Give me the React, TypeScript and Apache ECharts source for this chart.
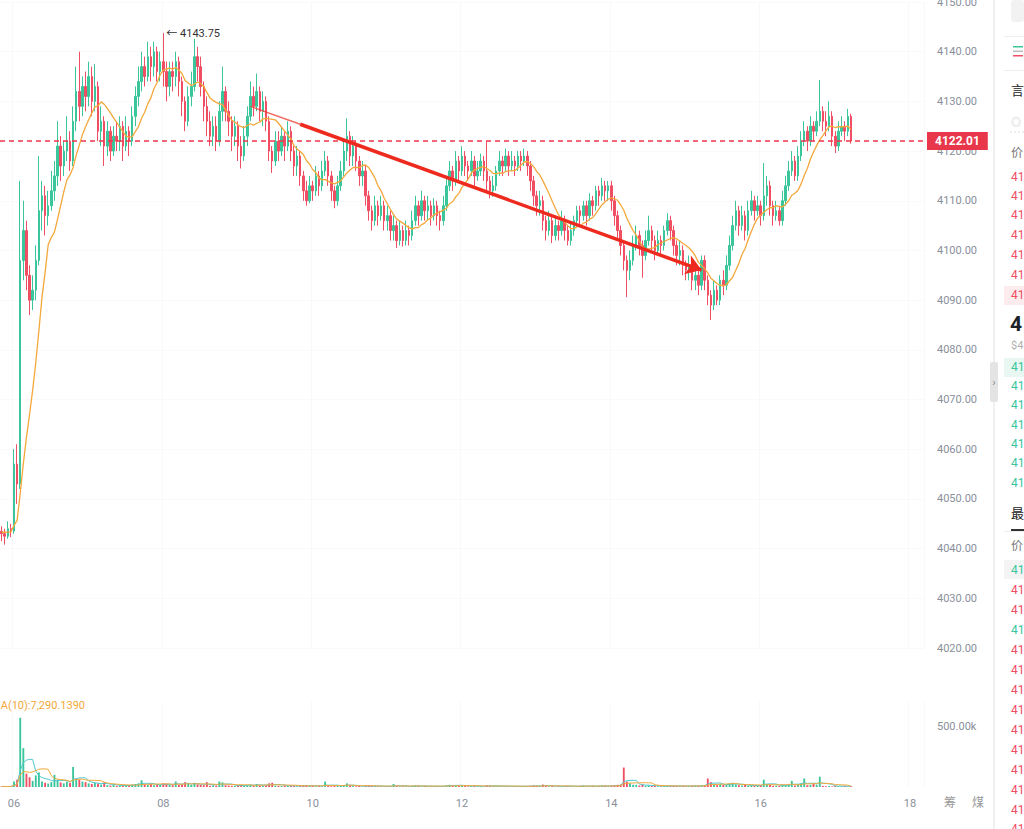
import React, { useEffect, useRef } from 'react';
import * as echarts from 'echarts';

// ---------- data (hourly candles, first slot = day 05 20:00) ----------
const PRE_CLOSES = [4042.5, 4043.8, 4043, 4044.2, 4042.7, 4043.5, 4044, 4042.8, 4043.4];

// [open, close, low, high]
const CANDLES: number[][] = [
  [4043.5, 4043, 4041.5, 4044.5], [4043, 4042.5, 4040.8, 4044], [4042.5, 4044, 4042, 4045.5], [4044, 4043.5, 4042.3, 4045],
  // day 06
  [4043.5, 4057, 4043, 4060], [4057, 4053, 4049, 4061], [4053, 4098, 4052, 4114], [4098, 4104, 4094, 4110], [4104, 4095, 4092, 4106],
  [4095, 4090, 4087, 4097], [4090, 4092, 4088, 4095], [4092, 4098, 4090, 4101], [4098, 4108, 4097, 4119], [4108, 4111, 4104, 4114],
  [4111, 4107, 4103, 4113], [4107, 4109, 4105, 4112], [4109, 4112, 4108, 4116], [4112, 4115, 4110, 4118], [4115, 4121, 4113, 4126],
  [4121, 4117, 4114, 4123], [4117, 4120, 4115, 4122], [4120, 4122, 4118, 4127], [4122, 4118, 4116, 4124], [4118, 4126, 4117, 4129],
  [4126, 4132, 4124, 4137], [4132, 4129, 4126, 4140], [4129, 4133, 4127, 4135], [4133, 4131, 4128, 4136],
  // day 07
  [4131, 4135, 4129, 4138], [4135, 4130, 4127, 4137], [4130, 4133, 4128, 4137.5], [4133, 4124, 4122, 4134], [4124, 4126, 4121, 4129],
  [4126, 4121, 4117, 4127], [4121, 4124, 4119, 4126], [4124, 4120, 4118, 4125], [4120, 4123, 4119, 4125], [4123, 4122, 4120, 4126],
  [4122, 4125, 4120, 4127], [4125, 4121, 4118, 4126], [4121, 4124, 4120, 4127], [4124, 4122, 4119, 4125], [4122, 4127, 4121, 4129],
  [4127, 4131, 4125, 4133], [4131, 4134, 4129, 4137], [4134, 4137, 4132, 4140], [4137, 4135, 4133, 4139], [4135, 4139, 4134, 4142],
  [4139, 4137, 4134, 4141], [4137, 4140, 4135, 4142], [4140, 4136, 4134, 4141], [4136, 4138, 4134, 4140],
  // day 08
  [4138, 4136, 4133, 4143.75], [4136, 4133, 4130, 4138], [4133, 4136, 4131, 4138], [4136, 4135, 4132, 4138], [4135, 4138, 4133, 4140],
  [4138, 4134, 4131, 4139], [4134, 4130, 4127, 4135], [4130, 4126, 4124, 4131], [4126, 4131, 4125, 4133], [4131, 4133, 4129, 4136],
  [4133, 4139, 4132, 4142.6], [4139, 4137, 4134, 4141], [4137, 4133, 4131, 4139], [4133, 4129, 4126, 4134], [4129, 4126, 4123, 4131],
  [4126, 4123, 4121, 4128], [4123, 4125, 4121, 4127], [4125, 4122, 4120, 4127], [4122, 4128, 4121, 4130], [4128, 4132, 4126, 4137],
  [4132, 4128, 4126, 4133], [4128, 4126, 4123, 4130], [4126, 4123, 4120, 4127], [4123, 4125, 4121, 4127],
  // day 09
  [4125, 4121, 4118, 4126], [4121, 4119, 4116.5, 4123], [4119, 4123, 4118, 4125], [4123, 4127, 4121, 4129], [4127, 4131, 4126, 4134],
  [4131, 4129, 4127, 4133], [4129, 4132, 4128, 4135.6], [4132, 4128, 4126, 4133], [4128, 4130, 4125, 4132], [4130, 4126, 4124, 4131],
  [4126, 4120, 4118, 4127], [4120, 4118, 4115.6, 4121], [4118, 4122, 4117, 4124], [4122, 4120, 4118, 4124], [4120, 4123, 4119, 4125],
  [4123, 4121, 4118, 4124], [4121, 4124, 4120, 4126], [4124, 4120, 4118, 4125], [4120, 4117, 4115, 4121], [4117, 4119, 4115, 4121],
  [4119, 4115, 4113, 4120], [4115, 4112, 4110, 4116], [4112, 4110, 4109, 4114], [4110, 4113, 4109.5, 4115],
  // day 10
  [4113, 4112, 4110, 4114], [4112, 4115, 4111, 4117], [4115, 4113, 4111, 4116], [4113, 4116, 4112, 4118], [4116, 4118, 4115, 4120],
  [4118, 4115, 4113, 4119], [4115, 4112, 4110, 4116], [4112, 4110, 4108.5, 4113], [4110, 4113, 4109, 4115], [4113, 4116, 4112, 4118],
  [4116, 4120, 4115, 4122], [4120, 4123, 4118, 4126.6], [4123, 4119, 4117, 4124], [4119, 4121, 4117, 4123], [4121, 4118, 4116, 4122],
  [4118, 4115, 4113, 4119], [4115, 4116, 4113, 4118], [4116, 4111, 4109, 4117], [4111, 4108, 4106, 4112], [4108, 4106, 4104, 4109],
  [4106, 4109, 4105, 4111], [4109, 4107, 4105, 4110], [4107, 4109, 4106, 4111], [4109, 4106, 4104, 4110],
  // day 11
  [4106, 4107, 4104, 4109], [4107, 4104, 4102, 4108], [4104, 4105, 4102, 4107], [4105, 4102, 4100.5, 4106], [4102, 4104, 4101, 4106],
  [4104, 4102, 4100.8, 4105], [4102, 4104, 4101, 4106], [4104, 4103, 4101, 4105], [4103, 4106, 4102, 4108], [4106, 4109, 4105, 4111],
  [4109, 4107, 4105, 4110], [4107, 4110, 4106, 4112], [4110, 4108, 4106, 4111], [4108, 4109, 4106, 4111], [4109, 4107, 4105, 4110],
  [4107, 4109, 4106, 4110.5], [4109, 4107, 4105, 4110], [4107, 4106, 4104, 4108], [4106, 4109, 4105, 4111], [4109, 4113, 4108, 4115],
  [4113, 4116, 4112, 4118], [4116, 4114, 4112, 4117], [4114, 4118, 4113, 4120], [4118, 4116, 4114, 4119],
  // day 12
  [4116, 4119, 4115, 4121], [4119, 4117, 4115, 4120], [4117, 4116, 4114, 4118], [4116, 4118, 4115, 4120], [4118, 4115, 4113, 4119],
  [4115, 4116, 4114, 4118], [4116, 4118, 4115, 4119.5], [4118, 4116, 4114, 4119], [4116, 4114, 4112, 4122], [4114, 4112, 4110.5, 4115],
  [4112, 4113, 4110.8, 4115], [4113, 4116, 4112, 4117], [4116, 4118, 4115, 4120], [4118, 4117, 4115, 4119], [4117, 4119, 4116, 4120.5],
  [4119, 4117, 4115, 4120], [4117, 4118, 4116, 4120], [4118, 4117, 4115, 4119], [4117, 4119, 4116, 4120], [4119, 4118, 4116, 4120],
  [4118, 4119, 4117, 4120.5], [4119, 4117, 4115, 4120], [4117, 4114, 4112, 4118], [4114, 4111, 4109, 4115],
  // day 13
  [4111, 4109, 4107, 4112], [4109, 4110, 4107, 4112], [4110, 4106, 4104, 4111], [4106, 4104, 4102, 4107], [4104, 4106, 4103, 4108],
  [4106, 4103, 4101.5, 4107], [4103, 4105, 4102, 4107], [4105, 4104, 4102, 4106], [4104, 4106, 4103, 4108], [4106, 4104, 4102, 4107],
  [4104, 4102, 4101, 4105], [4102, 4104, 4101, 4106], [4104, 4106, 4103, 4107], [4106, 4108, 4105, 4109], [4108, 4107, 4105, 4109],
  [4107, 4109, 4106, 4110], [4109, 4107, 4105, 4110], [4107, 4110, 4106, 4111.5], [4110, 4109, 4107, 4111], [4109, 4112, 4108, 4113],
  [4112, 4111, 4109, 4113], [4111, 4113, 4110, 4114.6], [4113, 4112, 4110, 4114], [4112, 4113, 4110, 4114],
  // day 14
  [4113, 4110, 4108, 4114], [4110, 4107, 4105, 4111], [4107, 4104, 4102, 4108], [4104, 4101, 4099, 4105], [4101, 4098, 4096, 4102],
  [4098, 4096, 4090.6, 4099], [4096, 4098, 4094, 4100], [4098, 4101, 4097, 4103], [4101, 4103, 4100, 4105], [4103, 4101, 4099, 4104],
  [4101, 4099, 4094.5, 4102], [4099, 4102, 4098, 4104], [4102, 4104, 4101, 4107], [4104, 4102, 4100, 4105], [4102, 4100, 4098, 4103],
  [4100, 4102, 4099, 4104], [4102, 4101, 4099, 4103], [4101, 4104, 4100, 4105], [4104, 4106, 4103, 4107.5], [4106, 4104, 4102, 4107],
  [4104, 4101, 4099, 4105], [4101, 4099, 4097, 4102], [4099, 4100, 4097, 4102], [4100, 4097, 4095, 4101],
  // day 15
  [4097, 4096, 4094, 4098], [4096, 4097, 4094, 4099], [4097, 4094, 4092, 4098], [4094, 4095, 4092, 4097], [4095, 4093, 4091, 4096],
  [4093, 4098, 4092, 4099], [4098, 4094, 4092, 4099], [4094, 4091, 4089, 4095], [4091, 4089, 4086, 4092], [4089, 4092, 4088, 4094],
  [4092, 4090, 4089, 4093], [4090, 4094, 4089, 4095], [4094, 4093, 4091, 4096], [4093, 4097, 4092, 4099], [4097, 4101, 4096, 4103],
  [4101, 4105, 4100, 4107], [4105, 4108, 4104, 4110], [4108, 4105, 4103, 4109], [4105, 4107, 4104, 4109], [4107, 4104, 4102, 4108],
  [4104, 4108, 4103, 4110], [4108, 4110, 4107, 4112], [4110, 4108, 4106, 4111], [4108, 4109, 4107, 4111],
  // day 16
  [4109, 4107, 4105, 4110], [4107, 4111, 4106, 4117.6], [4111, 4113, 4109, 4115], [4113, 4109, 4107, 4114], [4109, 4107, 4105, 4110],
  [4107, 4108, 4106, 4110], [4108, 4106, 4105, 4109], [4106, 4110, 4105, 4112], [4110, 4113, 4109, 4115], [4113, 4116, 4112, 4118],
  [4116, 4118, 4115, 4120], [4118, 4115, 4114, 4119], [4115, 4119, 4114, 4121], [4119, 4122, 4118, 4124], [4122, 4124, 4121, 4126],
  [4124, 4122, 4120, 4125], [4122, 4125, 4121, 4127], [4125, 4124, 4122, 4126], [4124, 4126, 4123, 4128], [4126, 4128, 4125, 4134.3],
  [4128, 4126, 4124, 4129], [4126, 4125, 4123, 4128], [4125, 4127, 4124, 4130], [4127, 4123, 4121, 4128],
  // day 17
  [4123, 4121, 4119.6, 4124], [4121, 4124, 4120, 4126], [4124, 4125, 4123, 4127], [4125, 4124, 4122, 4126], [4124, 4127, 4123, 4128.5],
  [4127, 4122.01, 4121.5, 4127.5],
];

// volume in thousands
const VOLUMES_K = [
  4, 5, 3, 6,
  45, 60, 570, 320, 110, 80, 50, 95, 120, 45, 35, 28, 40, 100, 60, 38, 30, 45, 35, 165, 70, 60, 45, 40,
  30, 25, 35, 28, 20, 40, 15, 12, 18, 10, 14, 9, 12, 16, 20, 25, 30, 55, 22, 18, 25, 15, 20, 18,
  30, 28, 20, 15, 45, 18, 22, 40, 25, 18, 35, 22, 18, 15, 40, 10, 14, 12, 45, 38, 15, 12, 10, 8,
  14, 18, 12, 16, 20, 12, 25, 14, 12, 15, 30, 35, 12, 10, 8, 12, 10, 9, 8, 6, 10, 12, 15, 10,
  8, 6, 9, 7, 45, 8, 6, 10, 8, 15, 12, 30, 10, 8, 6, 8, 5, 10, 12, 9, 7, 6, 8, 5,
  7, 6, 25, 9, 5, 6, 7, 5, 10, 12, 8, 6, 9, 7, 6, 5, 7, 6, 8, 15, 18, 12, 14, 10,
  16, 8, 6, 7, 9, 6, 8, 6, 14, 10, 8, 9, 7, 6, 8, 5, 6, 5, 7, 6, 8, 7, 9, 12,
  10, 8, 20, 10, 6, 9, 5, 7, 6, 8, 9, 6, 7, 6, 8, 12, 7, 6, 9, 7, 8, 12, 9, 7,
  10, 14, 18, 20, 160, 45, 30, 18, 18, 12, 20, 10, 14, 8, 9, 7, 6, 8, 12, 9, 10, 8, 7, 9,
  6, 8, 10, 12, 9, 14, 15, 70, 40, 20, 15, 25, 18, 20, 30, 35, 22, 15, 12, 18, 10, 14, 9, 11,
  15, 60, 25, 18, 10, 12, 8, 20, 15, 18, 50, 12, 20, 30, 70, 15, 18, 25, 20, 85, 9, 6, 8, 5,
  11, 7, 6, 8, 5, 8,
];

const FIRST_DAY = 5;
const FIRST_HOUR = 20;
const SLOT_COUNT = 297;
const X_TICK_DAYS = ['06', '08', '10', '12', '14', '16', '18'];

const PRICE_MIN = 4020;
const PRICE_MAX = 4150;
const PRICE_STEP = 10;
const LAST_PRICE = 4122.01;
const HIGH_PRICE = 4143.75;
const HIGH_INDEX = 52;
const VOL_MAX_K = 700;
const VOL_TICK_K = 500;
const VOL_MA10_TEXT = 'MA(10):7,290.1390';
const VOL_MA10_LAST_K = 7.29;

// hand-drawn arrow: [category index, price]
const ARROW_THIN = [[80, 4129], [96, 4125.4]];
const ARROW_THICK = [[96, 4125.4], [225, 4096.05]];

// right panel (order book, partially visible)
const ASK_ROWS_Y = [177, 196, 215, 235, 255, 275, 295];
const BID_ROWS_Y = [367, 386, 405, 425, 444, 463, 483];
const TRADE_ROWS_Y = [570, 590, 610, 630, 650, 670, 690, 710, 730, 750, 770, 790, 810, 829];
const TRADE_ROWS_SIDE = ['buy', 'sell', 'sell', 'buy', 'sell', 'sell', 'sell', 'sell', 'sell', 'sell', 'sell', 'sell', 'sell', 'sell'];

const UP = '#3ac59b';
const DOWN = '#f04e62';
const MA_COLOR = '#f3a83b';
const FONT = 'Roboto, "Noto Sans CJK SC", sans-serif';

function pad2(n: number) {
  return n < 10 ? '0' + n : '' + n;
}

function movingAvg(values: number[], n: number, pre: number[] = []) {
  const all = pre.concat(values);
  const out: number[] = [];
  for (let i = pre.length; i < all.length; i++) {
    const s = Math.max(0, i - n + 1);
    const w = all.slice(s, i + 1);
    out.push(+(w.reduce((a, b) => a + b, 0) / w.length).toFixed(3));
  }
  return out;
}

const CATEGORIES: string[] = Array.from({ length: SLOT_COUNT }, (_, i) => {
  const t = FIRST_HOUR + i;
  return pad2(FIRST_DAY + Math.floor(t / 24)) + ' ' + pad2(t % 24) + ':00';
});

const isTick = (_: number, v: string) =>
  v.endsWith(' 00:00') && X_TICK_DAYS.includes(v.slice(0, 2));

function panelGraphics() {
  const els: any[] = [];
  const txt = (x: number, y: number, text: string, fill: string, fontSize = 12, fontWeight: any = 'normal') => ({
    type: 'text', x, y, silent: true,
    style: { text, fill, fontSize, fontWeight, fontFamily: FONT, verticalAlign: 'middle', align: 'left' },
  });
  const rect = (x: number, y: number, width: number, height: number, fill: string, r = 0) => ({
    type: 'rect', silent: true, shape: { x, y, width, height, r }, style: { fill },
  });
  els.push(rect(993, 0, 2, 829, '#f0f0f0'));
  els.push(rect(990, 362, 8, 40, '#e4e4e4', 2));
  els.push({ type: 'text', x: 994, y: 382, silent: true, style: { text: '›', fill: '#888', fontSize: 10, align: 'center', verticalAlign: 'middle' } });
  els.push(rect(1011, 0, 13, 22, '#f2f2f2', 3));
  els.push(rect(1004, 36, 20, 1, '#eeeeee'));
  els.push(rect(1013, 46, 10, 1.5, UP));
  els.push(rect(1013, 50.5, 10, 1.5, '#bdbdbd'));
  els.push(rect(1013, 55, 10, 1.5, DOWN));
  els.push(rect(1004, 70, 20, 1, '#eeeeee'));
  els.push(txt(1011, 90, '言', '#222', 13));
  els.push(txt(1011, 122, '◎', '#c8c8c8', 10));
  els.push({ type: 'line', silent: true, shape: { x1: 1010, y1: 132, x2: 1024, y2: 132 }, style: { stroke: '#dddddd', lineWidth: 1, lineDash: [2, 2] } });
  els.push(txt(1011, 153, '价', '#777', 12));
  els.push(rect(1004, 286, 20, 19, '#fdecee'));
  ASK_ROWS_Y.forEach((y) => els.push(txt(1011, y, '41', DOWN, 12)));
  els.push(txt(1010, 324, '4', '#1e2329', 21, 'bold'));
  els.push(txt(1011, 345, '$4', '#b0b0b0', 11));
  els.push(rect(1004, 358, 20, 19, '#e8f7f1'));
  BID_ROWS_Y.forEach((y) => els.push(txt(1011, y, '41', UP, 12)));
  els.push(txt(1011, 513, '最', '#222', 13));
  els.push(rect(1004, 531, 20, 1, '#eeeeee'));
  els.push(rect(1011, 529, 13, 2, '#333333'));
  els.push(txt(1011, 546, '价', '#777', 12));
  els.push(rect(1004, 560, 20, 19, '#f4f4f4'));
  TRADE_ROWS_Y.forEach((y, i) => els.push(txt(1011, y, '41', TRADE_ROWS_SIDE[i] === 'buy' ? UP : DOWN, 12)));
  els.push(txt(944, 803, '筹', '#999', 12));
  els.push(txt(972, 803, '煤', '#999', 12));
  els.push(txt(-9, 705, VOL_MA10_TEXT, MA_COLOR, 11));
  return els;
}

export default function App() {
  const ref = useRef<HTMLDivElement>(null);

  useEffect(() => {
    document.body.style.margin = '0';
    const chart = echarts.init(ref.current!, null, { renderer: 'svg' });
    const closes = CANDLES.map((c) => c[1]);
    const ma10 = movingAvg(closes, 10, PRE_CLOSES);
    const volMa5 = movingAvg(VOLUMES_K, 5);
    const volMa10 = movingAvg(VOLUMES_K, 10);
    const volData = VOLUMES_K.map((v, i) => ({
      value: v,
      itemStyle: { color: CANDLES[i][1] >= CANDLES[i][0] ? UP : DOWN },
    }));

    const xBase = {
      type: 'category' as const,
      data: CATEGORIES,
      boundaryGap: true,
      axisLine: { show: false },
      axisTick: { show: false },
      splitLine: { show: true, interval: isTick, lineStyle: { color: '#f8f8f8', width: 1 } },
    };

    chart.setOption({
      animation: false,
      backgroundColor: '#ffffff',
      textStyle: { fontFamily: FONT },
      grid: [
        { left: 0, right: 100, top: 2, height: 646, outerBoundsMode: 'none', containLabel: false },
        { left: 0, right: 100, top: 702, height: 85, outerBoundsMode: 'none', containLabel: false },
      ],
      xAxis: [
        { ...xBase, gridIndex: 0, axisLabel: { show: false, interval: isTick } },
        {
          ...xBase,
          gridIndex: 1,
          axisLabel: {
            show: true,
            interval: isTick,
            formatter: (v: string) => v.slice(0, 2),
            color: '#8a8f99',
            fontSize: 11,
            margin: 11,
          },
        },
      ],
      yAxis: [
        {
          type: 'value',
          gridIndex: 0,
          position: 'right',
          min: PRICE_MIN,
          max: PRICE_MAX,
          interval: PRICE_STEP,
          axisLine: { show: false },
          axisTick: { show: false },
          axisLabel: { color: '#8a8f9c', fontSize: 11, margin: 13, formatter: (v: number) => v.toFixed(2) },
          splitLine: { show: true, lineStyle: { color: '#fafafa' } },
        },
        {
          type: 'value',
          gridIndex: 1,
          position: 'right',
          min: 0,
          max: VOL_MAX_K,
          interval: VOL_TICK_K,
          axisLine: { show: false },
          axisTick: { show: false },
          axisLabel: {
            color: '#8a8f9c',
            fontSize: 11,
            margin: 13,
            formatter: (v: number) => (v === VOL_TICK_K ? VOL_TICK_K.toFixed(2) + 'k' : ''),
          },
          splitLine: { show: false },
        },
      ],
      series: [
        {
          type: 'candlestick',
          xAxisIndex: 0,
          yAxisIndex: 0,
          data: CANDLES,
          barWidth: '60%',
          itemStyle: { color: UP, color0: DOWN, borderColor: UP, borderColor0: DOWN, borderWidth: 1 },
          markPoint: {
            silent: true,
            symbol: 'circle',
            symbolSize: 0,
            data: [
              {
                coord: [HIGH_INDEX, HIGH_PRICE],
                label: {
                  show: true,
                  position: 'right',
                  distance: 3,
                  formatter: '← ' + HIGH_PRICE.toFixed(2),
                  color: '#333',
                  fontSize: 11,
                },
              },
            ],
          },
          markLine: {
            silent: true,
            symbol: ['none', 'none'],
            data: [
              {
                yAxis: LAST_PRICE,
                lineStyle: { type: [5, 4], color: '#f0344b', width: 1.5, opacity: 1 },
                label: {
                  show: true,
                  position: 'end',
                  distance: 3,
                  formatter: LAST_PRICE.toFixed(2),
                  backgroundColor: '#e8364a',
                  color: '#fff',
                  fontWeight: 'bold',
                  fontSize: 12,
                  padding: [3, 8, 3, 8],
                },
              },
              [
                { coord: ARROW_THIN[0], symbol: 'none', lineStyle: { type: 'solid', color: '#ee3a2c', width: 1.4, opacity: 0.75 }, label: { show: false } },
                { coord: ARROW_THIN[1], symbol: 'none' },
              ],
              [
                { coord: ARROW_THICK[0], symbol: 'none', lineStyle: { type: 'solid', color: '#ee2a1e', width: 3.5 }, label: { show: false } },
                { coord: ARROW_THICK[1], symbol: 'arrow', symbolSize: 15 },
              ],
            ],
          },
        },
        {
          type: 'line',
          xAxisIndex: 0,
          yAxisIndex: 0,
          data: ma10,
          symbol: 'none',
          smooth: false,
          lineStyle: { color: MA_COLOR, width: 1.3 },
          silent: true,
        },
        {
          type: 'bar',
          xAxisIndex: 1,
          yAxisIndex: 1,
          data: volData,
          barWidth: '60%',
          markLine: {
            silent: true,
            symbol: ['none', 'none'],
            data: [
              {
                yAxis: VOL_MA10_LAST_K,
                lineStyle: { opacity: 0 },
                label: {
                  show: true,
                  position: 'end',
                  distance: 3,
                  formatter: '-      7.3k',
                  backgroundColor: '#f5a83a',
                  color: '#fff',
                  fontSize: 11,
                  padding: [2, 14, 2, 4],
                },
              },
            ],
          },
        },
        {
          type: 'line',
          xAxisIndex: 1,
          yAxisIndex: 1,
          data: volMa5,
          symbol: 'none',
          lineStyle: { color: '#4fc6cf', width: 1 },
          silent: true,
        },
        {
          type: 'line',
          xAxisIndex: 1,
          yAxisIndex: 1,
          data: volMa10,
          symbol: 'none',
          lineStyle: { color: MA_COLOR, width: 1 },
          silent: true,
        },
      ],
      graphic: panelGraphics(),
    });

    return () => chart.dispose();
  }, []);

  return (
    <div
      ref={ref}
      style={{ position: 'fixed', left: 0, top: 0, width: 1024, height: 829, background: '#fff' }}
    />
  );
}
